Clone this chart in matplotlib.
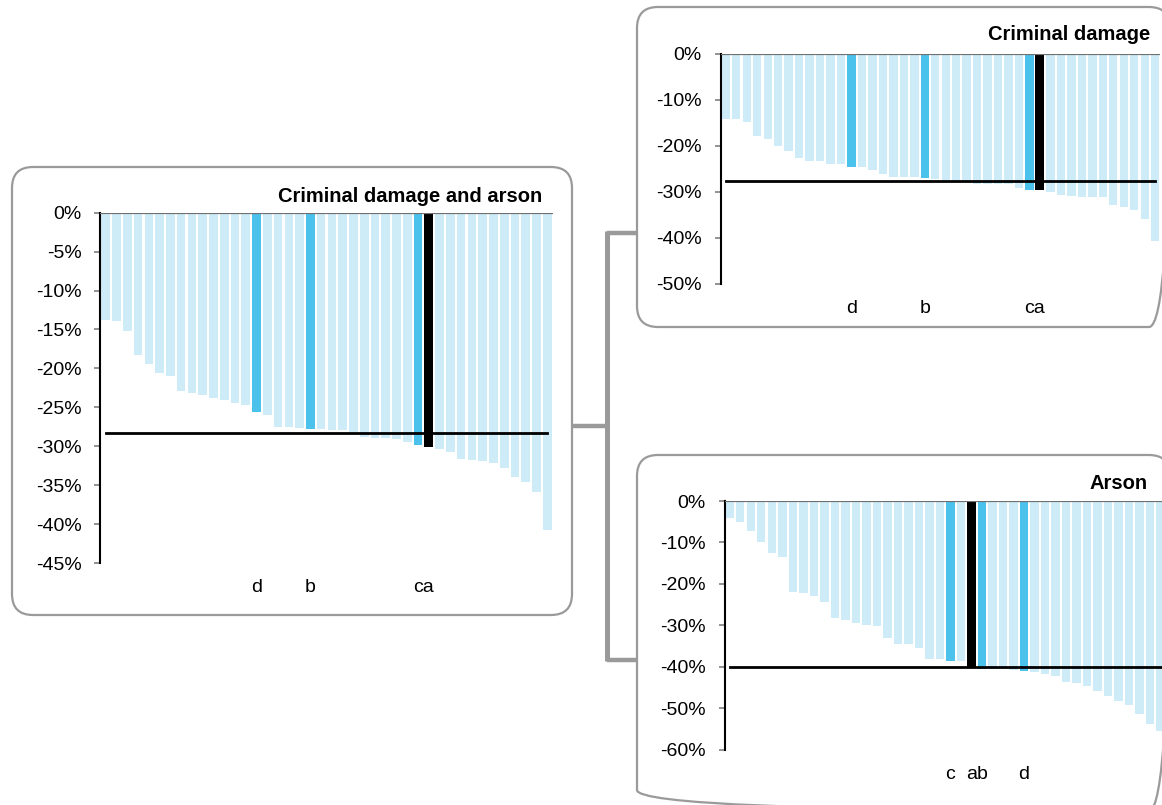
import matplotlib
matplotlib.use("Agg")
import matplotlib.pyplot as plt
from matplotlib.patches import FancyBboxPatch

plt.rcParams['font.family'] = ['Liberation Sans', 'DejaVu Sans']

# ---- data (percentage change) ----
both_vals = [-13.8, -13.9, -15.2, -18.3, -19.4, -20.6, -21.0, -22.9, -23.2, -23.4,
             -23.8, -24.1, -24.4, -24.7, -25.6, -26.0, -27.5, -27.5, -27.6, -27.8,
             -27.8, -27.9, -27.9, -28.2, -28.8, -29.0, -29.0, -29.1, -29.4, -29.9,
             -30.1, -30.4, -30.8, -31.6, -31.8, -31.9, -32.2, -32.8, -33.9, -34.6,
             -35.9, -40.8]
both_avg = -28.3
both_marks = {14: 'd', 19: 'b', 29: 'c', 30: 'a'}

damage_vals = [-14.1, -14.2, -14.7, -17.9, -18.5, -20.0, -21.1, -22.7, -23.2, -23.4,
               -23.9, -23.9, -24.7, -24.7, -25.2, -26.1, -26.7, -26.8, -26.8, -27.1,
               -27.3, -27.5, -27.6, -27.7, -28.2, -28.4, -28.4, -28.4, -29.2, -29.5,
               -29.6, -30.0, -30.7, -30.9, -31.1, -31.1, -31.2, -32.9, -33.3, -34.0,
               -35.9, -40.6]
damage_avg = -27.7
damage_marks = {12: 'd', 19: 'b', 29: 'c', 30: 'a'}

arson_vals = [-4.1, -5.1, -7.3, -10.0, -12.6, -13.6, -22.0, -22.2, -22.9, -24.4,
              -28.2, -28.6, -29.4, -30.0, -30.2, -33.1, -34.4, -34.5, -35.4, -38.0,
              -38.2, -38.5, -38.6, -40.0, -40.5, -40.5, -40.6, -40.8, -40.9, -41.2,
              -41.8, -42.3, -43.6, -44.0, -44.6, -45.8, -47.0, -48.3, -49.3, -51.4,
              -53.7, -55.6]
arson_avg = -40.0
arson_marks = {21: 'c', 23: 'a', 24: 'b', 28: 'd'}

LIGHT = '#CDECF8'
DARK = '#4AC2EC'
GREY = '#9A9A9A'

W, H = 1162, 805
fig = plt.figure(figsize=(W / 100, H / 100), dpi=100)

# background layer in pixel units for boxes and connectors
bg = fig.add_axes([0, 0, 1, 1], zorder=0)
bg.set_xlim(0, W)
bg.set_ylim(H, 0)
bg.axis('off')


def box(x0, y0, x1, y1):
    bg.add_patch(FancyBboxPatch((x0, y0), x1 - x0, y1 - y0,
                                boxstyle="round,pad=0,rounding_size=21",
                                fc='none', ec=GREY, lw=1.6))


box(12, 167, 572, 615)
box(637, 7, 1170, 327)
box(637, 455, 1170, 811)

bg.plot([572, 607], [425.5, 425.5], color=GREY, lw=3.2, solid_capstyle='butt')
bg.plot([607, 607], [231, 661], color=GREY, lw=3.6, solid_capstyle='butt')
bg.plot([607, 637], [233, 233], color=GREY, lw=3.2, solid_capstyle='butt')
bg.plot([607, 637], [660, 660], color=GREY, lw=3.2, solid_capstyle='butt')


def panel(x0, x1, ytop, ybot, vals, avg, marks, ymin, step, title, tx, ty):
    ax = fig.add_axes([x0 / W, 1 - ybot / H, (x1 - x0) / W, (ybot - ytop) / H], zorder=2)
    ax.set_facecolor('none')
    n = len(vals)
    xs = list(range(n))
    colors = []
    widths = []
    for i in xs:
        if marks.get(i) == 'a':
            colors.append('black')
            widths.append(0.86)
        elif i in marks:
            colors.append(DARK)
            widths.append(0.8)
        else:
            colors.append(LIGHT)
            widths.append(0.8)
    ax.bar(xs, vals, width=widths, color=colors, zorder=2)
    ax.plot([0, n - 1], [avg, avg], color='black', lw=2, zorder=3)
    ax.axhline(0, color='#707070', lw=1.6, zorder=4)
    ax.set_xlim(-0.5, n - 0.5)
    ax.set_ylim(ymin, 0)
    ticks = list(range(0, ymin - 1, -step))
    ax.set_yticks(ticks)
    ax.set_yticklabels([f"{t}%" for t in ticks])
    ax.set_xticks([])
    for s in ['top', 'right', 'bottom']:
        ax.spines[s].set_visible(False)
    ax.spines['left'].set_color('black')
    ax.spines['left'].set_linewidth(1.5)
    ax.tick_params(axis='y', length=4.5, width=1.2, color='#808080', pad=9,
                   labelsize=14, labelcolor='black')
    # group neighbouring marked bars into one label ("ca", "ab")
    groups = []
    for i in sorted(marks):
        if groups and groups[-1][-1] == i - 1:
            groups[-1].append(i)
        else:
            groups.append([i])
    for g in groups:
        ax.annotate(''.join(marks[i] for i in g), xy=(sum(g) / len(g), 0),
                    xycoords=('data', 'axes fraction'),
                    xytext=(0, -17.5), textcoords='offset points',
                    ha='center', va='center', fontsize=14)
    fig.text(tx / W, 1 - ty / H, title, ha='right', va='center',
             fontsize=14.5, fontweight='bold')
    return ax


panel(100.4, 552.7, 212.7, 563.0, both_vals, both_avg, both_marks, -45, 5,
      'Criminal damage and arson', 542, 197)
panel(720.6, 1160.4, 54.0, 283.7, damage_vals, damage_avg, damage_marks, -50, 10,
      'Criminal damage', 1150, 34)
panel(724.5, 1165.9, 501.0, 749.7, arson_vals, arson_avg, arson_marks, -60, 10,
      'Arson', 1148, 483)

fig.savefig('out.png', dpi=100)
